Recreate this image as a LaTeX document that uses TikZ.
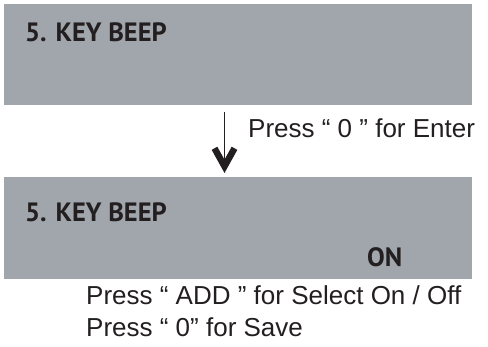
\documentclass[tikz,border=0pt]{standalone}
\usepackage{fontspec}
\setmainfont{Liberation Sans}
\newfontfamily\lcdfont{PT Sans}
\usetikzlibrary{arrows.meta}
\definecolor{lcdgrey}{RGB}{160,166,172}
\definecolor{ink}{RGB}{35,31,32}
\begin{document}
\begin{tikzpicture}[x=1pt,y=1pt,
  lcd/.style={fill=lcdgrey,draw=none},
  lcdtext/.style={inner sep=0pt,anchor=base west,text=ink,font=\lcdfont\bfseries\fontsize{26.5}{30}\selectfont},
  note/.style={inner sep=0pt,anchor=base west,text=ink,font=\fontsize{26}{30}\selectfont}]
\useasboundingbox (0,0) rectangle (488,347);
\fill[lcd] (4,242) rectangle (472,343);
\fill[lcd] (4,68) rectangle (472,170);
\node[lcdtext] (t1) at (25,305) {5. KEY BEEP};
\node[lcdtext] (t2) at (25,125) {5. KEY BEEP};
\node[lcdtext] (on) at (367,80) {ON};
\coordinate (a1) at (224.5,235);
\coordinate (a2) at (224.5,174);
\draw[line width=1.3pt,ink,-{Straight Barb[length=18pt,width=20pt,line width=6.5pt]}] (a1) -- (a2);
\node[note] (enter) at (248,209) {Press “ 0 ” for Enter};
\node[note] (sel) at (86,42) {Press “ ADD ” for Select On / Off};
\node[note] (save) at (86,10) {Press “ 0” for Save};
\end{tikzpicture}
\end{document}
